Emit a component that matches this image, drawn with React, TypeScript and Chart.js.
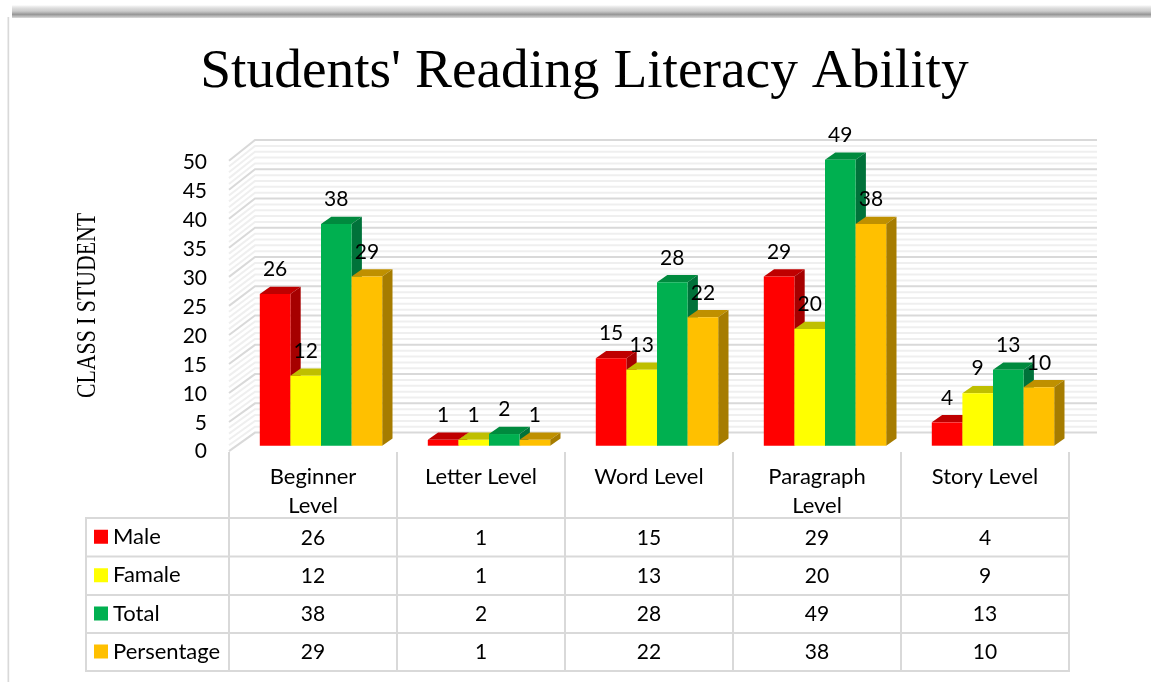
import React, { useEffect, useRef } from "react";
import { Chart, registerables } from "chart.js";

Chart.register(...registerables);

const categories = [["Beginner", "Level"], "Letter Level", "Word Level", ["Paragraph", "Level"], "Story Level"];
const male = [26, 1, 15, 29, 4];
const famale = [12, 1, 13, 20, 9];
const total = [38, 2, 28, 49, 13];
const persentage = [29, 1, 22, 38, 10];
const seriesNames = ["Male", "Famale", "Total", "Persentage"];
const seriesValues = [male, famale, total, persentage];
const frontColors = ["#FF0000", "#FFFF00", "#00B050", "#FFC000"];
const topColors = ["#BF0000", "#BFBF00", "#008A3E", "#BF9000"];
const sideColors = ["#A60000", "#A6A600", "#00723A", "#A67C00"];
const yAxisTitle = "CLASS I STUDENT";

const FONT = "Lato, Carlito, sans-serif";
const TEXT_SIZE = 22;
const NUM_SIZE = 21;
const AREA = { left: 237, right: 1077, top: 154, bottom: 445.7 };
const PAD_LEFT = 92;
const DEPTH = { x: 10.3, y: 7.3 };
const WALL_BACK = { x: 18, y: -13.1, k: 1.003 };
const WALL_FRONT = { x: -8, y: 5.4, k: 0.9955 };
const TABLE_X = [86, 229, 397, 565, 733, 901, 1069];
const TABLE_Y = [518, 556.5, 595, 633, 671];

const framePlugin = {
  id: "frame",
  beforeDraw(chart: any) {
    const { ctx, width, height } = chart;
    ctx.save();
    ctx.fillStyle = "#fff";
    ctx.fillRect(0, 0, width, height);
    const g = ctx.createLinearGradient(0, 5, 0, 18);
    g.addColorStop(0, "rgba(150,150,150,0)");
    g.addColorStop(0.45, "rgba(190,190,190,0.75)");
    g.addColorStop(0.72, "rgba(150,150,150,1)");
    g.addColorStop(0.92, "rgba(190,190,190,0.9)");
    g.addColorStop(1, "rgba(225,225,225,1)");
    ctx.fillStyle = g;
    ctx.fillRect(12, 5, width - 12, 13);
    ctx.fillStyle = "#D9D9D9";
    ctx.fillRect(7.5, 17, 1.7, height - 17);
    ctx.restore();
  },
};

const wallPlugin = {
  id: "walls",
  beforeDatasetsDraw(chart: any) {
    const { ctx, chartArea, scales } = chart;
    const y = scales.y;
    const base = y.getPixelForValue(0);
    const plane = (v: number, p: { y: number; k: number }) => base + p.y + (y.getPixelForValue(v) - base) * p.k;
    const step = y.options.ticks.stepSize;
    const drawLine = (v: number, color: string) => {
      ctx.strokeStyle = color;
      ctx.beginPath();
      ctx.moveTo(chartArea.left + WALL_FRONT.x, plane(v, WALL_FRONT));
      ctx.lineTo(chartArea.left + WALL_BACK.x, plane(v, WALL_BACK));
      ctx.lineTo(chartArea.right + WALL_BACK.x + 2, plane(v, WALL_BACK));
      ctx.stroke();
    };
    ctx.save();
    ctx.lineWidth = 2;
    for (let v = 0; v <= y.max; v++) if (v % step !== 0) drawLine(v, "#EFEFEF");
    for (let v = 0; v <= y.max; v += step) drawLine(v, "#D9D9D9");
    // tick labels sit on the front edge of the side wall
    ctx.fillStyle = "#000";
    ctx.font = `${NUM_SIZE}px ${FONT}`;
    ctx.textAlign = "right";
    ctx.textBaseline = "middle";
    y.ticks.forEach((t: any) => {
      ctx.fillText(String(t.value), 207, base + 6 + (y.getPixelForValue(t.value) - base) * 0.9925);
    });
    // axis title
    ctx.translate(95, 305.5);
    ctx.rotate(-Math.PI / 2);
    ctx.textAlign = "center";
    ctx.textBaseline = "alphabetic";
    ctx.font = "27px 'Liberation Serif', serif";
    ctx.fillText(yAxisTitle, 0, 0, 185);
    ctx.restore();
  },
};

const bar3dPlugin = {
  id: "bar3d",
  // bars are painted left to right in the group, so each one overlaps its neighbour's side face
  beforeDatasetDraw() {
    return false;
  },
  afterDatasetsDraw(chart: any) {
    const { ctx } = chart;
    ctx.save();
    chart.data.datasets.forEach((_: any, i: number) => {
      chart.getDatasetMeta(i).data.forEach((bar: any) => {
        const l = bar.x - bar.width / 2;
        const r = bar.x + bar.width / 2;
        const t = bar.y;
        const b = bar.base;
        ctx.fillStyle = topColors[i];
        ctx.beginPath();
        ctx.moveTo(l, t);
        ctx.lineTo(l + DEPTH.x, t - DEPTH.y);
        ctx.lineTo(r + DEPTH.x, t - DEPTH.y);
        ctx.lineTo(r, t);
        ctx.closePath();
        ctx.fill();
        ctx.fillStyle = sideColors[i];
        ctx.beginPath();
        ctx.moveTo(r, t);
        ctx.lineTo(r + DEPTH.x, t - DEPTH.y);
        ctx.lineTo(r + DEPTH.x, b - DEPTH.y);
        ctx.lineTo(r, b);
        ctx.closePath();
        ctx.fill();
        bar.draw(ctx);
      });
    });
    ctx.fillStyle = "#000";
    ctx.font = `${NUM_SIZE}px ${FONT}`;
    ctx.textAlign = "center";
    ctx.textBaseline = "middle";
    chart.data.datasets.forEach((ds: any, i: number) => {
      chart.getDatasetMeta(i).data.forEach((bar: any, j: number) => {
        ctx.fillText(String(ds.data[j]), bar.x, bar.y - 24.5);
      });
    });
    ctx.restore();
  },
};

const tablePlugin = {
  id: "dataTable",
  afterDraw(chart: any) {
    const { ctx } = chart;
    ctx.save();
    ctx.strokeStyle = "#D9D9D9";
    ctx.lineWidth = 2;
    TABLE_Y.forEach((py) => {
      ctx.beginPath();
      ctx.moveTo(TABLE_X[0] - 1, py);
      ctx.lineTo(TABLE_X[TABLE_X.length - 1] + 1, py);
      ctx.stroke();
    });
    TABLE_X.forEach((px, k) => {
      ctx.beginPath();
      ctx.moveTo(px, k === 0 ? TABLE_Y[0] : 452);
      ctx.lineTo(px, TABLE_Y[TABLE_Y.length - 1]);
      ctx.stroke();
    });
    ctx.textBaseline = "middle";
    seriesNames.forEach((name, i) => {
      const cy = (TABLE_Y[i] + TABLE_Y[i + 1]) / 2;
      ctx.fillStyle = frontColors[i];
      ctx.fillRect(94, cy - 7.5, 14, 14);
      ctx.fillStyle = "#000";
      ctx.textAlign = "left";
      ctx.font = `${TEXT_SIZE}px ${FONT}`;
      ctx.fillText(name, 113, cy - 0.5);
      ctx.textAlign = "center";
      ctx.font = `${NUM_SIZE}px ${FONT}`;
      seriesValues[i].forEach((v, j) => {
        ctx.fillText(String(v), (TABLE_X[j + 1] + TABLE_X[j + 2]) / 2, cy + 0.5);
      });
    });
    ctx.restore();
  },
};

export default function App() {
  const ref = useRef<HTMLCanvasElement>(null);
  useEffect(() => {
    const chart = new Chart(ref.current as HTMLCanvasElement, {
      type: "bar",
      data: {
        labels: categories as any,
        datasets: seriesNames.map((name, i) => ({
          label: name,
          data: seriesValues[i],
          backgroundColor: frontColors[i],
          borderWidth: 0,
          categoryPercentage: 0.7286,
          barPercentage: 1,
        })),
      },
      options: {
        responsive: false,
        animation: false,
        layout: { autoPadding: false, padding: { left: PAD_LEFT, right: 1151 - AREA.right, top: 0, bottom: 0 } },
        plugins: {
          legend: { display: false },
          tooltip: { enabled: false },
          title: {
            display: true,
            text: "Students' Reading Literacy Ability",
            color: "#000",
            font: { family: "'Liberation Serif', serif", size: 55.4, weight: "normal", lineHeight: 1.2 },
            padding: { top: 39.5, bottom: AREA.top - 39.5 - 55.4 * 1.2 },
          },
        },
        scales: {
          x: {
            offset: true,
            grid: { display: false, drawTicks: false },
            border: { display: false },
            afterFit(scale: any) {
              scale.height = 682 - AREA.bottom;
            },
            ticks: {
              color: "#000",
              font: { family: FONT, size: TEXT_SIZE, lineHeight: 1.32 },
              padding: 16.5,
              labelOffset: -8,
              autoSkip: false,
              maxRotation: 0,
              minRotation: 0,
            },
          },
          y: {
            min: 0,
            max: 50,
            grid: { display: false, drawTicks: false },
            border: { display: false },
            afterFit(scale: any) {
              scale.width = AREA.left - PAD_LEFT;
            },
            ticks: { stepSize: 5, display: false },
          },
        },
      },
      plugins: [framePlugin, wallPlugin, bar3dPlugin, tablePlugin],
    } as any);
    return () => chart.destroy();
  }, []);
  return (
    <canvas
      ref={ref}
      width={1151}
      height={682}
      style={{ position: "fixed", left: 0, top: 0, width: 1151, height: 682, display: "block" }}
    />
  );
}
